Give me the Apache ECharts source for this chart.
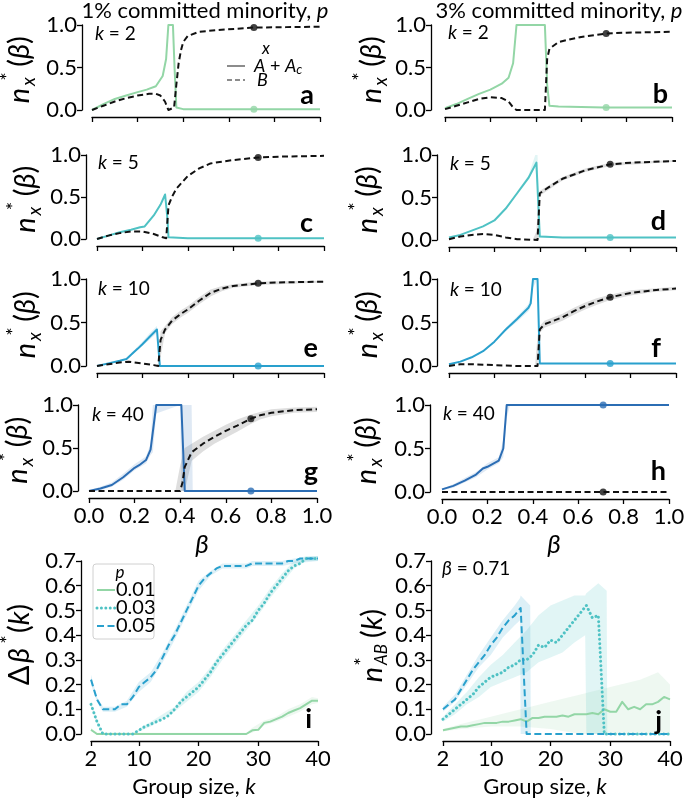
<!DOCTYPE html>
<html><head><meta charset="utf-8">
<script src="https://cdn.jsdelivr.net/npm/echarts@6/dist/echarts.min.js"></script>
<style>html,body{margin:0;padding:0;background:#fff}#c{width:685px;height:808px}</style>
</head><body><div id="c"></div>
<script>
// ---------------- DATA ----------------
const betaTicks = [0, 0.2, 0.4, 0.6, 0.8, 1.0];
const kTicks = [2, 10, 20, 30, 40];
const dotBeta = 0.71;

// panel a (k=2, p=1%)
const aBetaA = [0, 0.05, 0.1, 0.15, 0.2, 0.24, 0.28, 0.31, 0.325, 0.335, 0.355, 0.362, 0.37, 0.4, 0.6, 0.8, 1.0];
const aValA  = [0, 0.07, 0.13, 0.17, 0.21, 0.24, 0.28, 0.4, 0.6, 1.0, 1.0, 0.5, 0.03, 0.01, 0.01, 0.01, 0.01];
const aBetaB = [0, 0.05, 0.1, 0.15, 0.2, 0.25, 0.28, 0.3, 0.32, 0.335, 0.36, 0.37, 0.38, 0.39, 0.4, 0.42, 0.47, 0.55, 0.71, 0.85, 1.0];
const aValB  = [0, 0.05, 0.1, 0.14, 0.17, 0.19, 0.19, 0.17, 0.1, 0.0, 0.03, 0.3, 0.55, 0.7, 0.8, 0.87, 0.92, 0.94, 0.97, 0.975, 0.98];
const aDot = [0.01, 0.97];

// panel b (k=2, p=3%)
const bBetaA = [0, 0.05, 0.1, 0.15, 0.2, 0.25, 0.28, 0.3, 0.315, 0.44, 0.45, 0.46, 0.5, 0.7, 1.0];
const bValA  = [0.02, 0.07, 0.13, 0.19, 0.24, 0.31, 0.38, 0.55, 1.0, 1.0, 0.3, 0.05, 0.04, 0.03, 0.03];
const bBetaB = [0, 0.05, 0.1, 0.15, 0.2, 0.25, 0.28, 0.3, 0.315, 0.44, 0.45, 0.46, 0.5, 0.6, 0.71, 0.8, 1.0];
const bValB  = [0.01, 0.05, 0.09, 0.13, 0.15, 0.14, 0.1, 0.03, 0.0, 0.0, 0.6, 0.72, 0.8, 0.86, 0.9, 0.91, 0.92];
const bDot = [0.03, 0.9];

// panel c (k=5, p=1%)
const cBetaA = [0, 0.05, 0.1, 0.15, 0.19, 0.21, 0.25, 0.28, 0.3, 0.31, 0.315, 0.4, 1.0];
const cValA  = [0, 0.04, 0.08, 0.11, 0.14, 0.15, 0.28, 0.41, 0.53, 0.25, 0.02, 0.01, 0.01];
const cBetaB = [0, 0.05, 0.1, 0.15, 0.2, 0.25, 0.29, 0.305, 0.315, 0.33, 0.35, 0.4, 0.45, 0.5, 0.6, 0.71, 0.8, 1.0];
const cValB  = [0, 0.04, 0.07, 0.09, 0.09, 0.06, 0.02, 0.01, 0.4, 0.5, 0.6, 0.75, 0.84, 0.9, 0.94, 0.97, 0.98, 0.99];
const cDot = [0.01, 0.97];

// panel d (k=5, p=3%)
const dBetaA = [0, 0.05, 0.1, 0.15, 0.2, 0.25, 0.3, 0.35, 0.385, 0.4, 0.5, 1.0];
const dValA  = [0.03, 0.06, 0.11, 0.16, 0.23, 0.37, 0.55, 0.73, 0.91, 0.04, 0.03, 0.03];
const dBetaB = [0, 0.05, 0.1, 0.15, 0.2, 0.25, 0.3, 0.39, 0.4, 0.45, 0.5, 0.6, 0.71, 0.8, 1.0];
const dValB  = [0.01, 0.04, 0.06, 0.07, 0.06, 0.03, 0.01, 0.0, 0.55, 0.64, 0.72, 0.82, 0.89, 0.91, 0.93];
const dDot = [0.03, 0.89];
const dBandA = [[0.3, 0.53, 0.57], [0.35, 0.71, 0.76], [0.38, 0.86, 1.0], [0.39, 0.6, 1.0], [0.4, 0.03, 0.06], [0.5, 0.03, 0.03]];
const dBandB = [[0.37, 0, 0.01], [0.385, 0, 0.1], [0.395, 0, 0.55], [0.4, 0.52, 0.58], [0.5, 0.7, 0.74], [0.6, 0.8, 0.84], [0.71, 0.87, 0.91], [1.0, 0.92, 0.94]];

// panel e (k=10, p=1%)
const eBetaA = [0, 0.05, 0.1, 0.13, 0.15, 0.18, 0.2, 0.23, 0.264, 0.277, 1.0];
const eValA  = [0, 0.03, 0.06, 0.08, 0.13, 0.2, 0.25, 0.33, 0.42, 0.0, 0.0];
const eBetaB = [0, 0.05, 0.1, 0.14, 0.2, 0.25, 0.27, 0.28, 0.3, 0.33, 0.37, 0.4, 0.45, 0.5, 0.55, 0.6, 0.71, 0.8, 1.0];
const eValB  = [0, 0.02, 0.04, 0.05, 0.03, 0.01, 0.0, 0.3, 0.42, 0.52, 0.6, 0.65, 0.75, 0.84, 0.89, 0.92, 0.95, 0.96, 0.97];
const eDot = [0.0, 0.95];
const eBandA = [[0.15, 0.12, 0.15], [0.2, 0.23, 0.28], [0.23, 0.3, 0.37], [0.264, 0.38, 0.46], [0.277, 0, 0.03]];
const eBandB = [[0.27, 0, 0.02], [0.28, 0.1, 0.4], [0.3, 0.38, 0.46], [0.33, 0.48, 0.56], [0.37, 0.56, 0.64], [0.4, 0.61, 0.69], [0.45, 0.71, 0.79], [0.5, 0.8, 0.88], [0.55, 0.86, 0.92], [0.6, 0.9, 0.94], [0.71, 0.93, 0.97], [1.0, 0.96, 0.98]];

// panel f (k=10, p=3%)
const fBetaA = [0, 0.05, 0.1, 0.15, 0.2, 0.25, 0.3, 0.35, 0.36, 0.37, 0.39, 0.4, 1.0];
const fValA  = [0.02, 0.05, 0.1, 0.17, 0.28, 0.42, 0.54, 0.67, 0.72, 1.0, 1.0, 0.03, 0.03];
const fBetaB = [0, 0.05, 0.1, 0.2, 0.3, 0.39, 0.4, 0.42, 0.5, 0.55, 0.6, 0.65, 0.71, 0.8, 0.9, 1.0];
const fValB  = [0.0, 0.02, 0.02, 0.01, 0.0, 0.0, 0.42, 0.48, 0.56, 0.63, 0.69, 0.74, 0.79, 0.84, 0.87, 0.89];
const fDot = [0.03, 0.79];
const fBandA = [[0.25, 0.4, 0.44], [0.3, 0.51, 0.57], [0.35, 0.63, 0.71], [0.36, 0.68, 0.8], [0.37, 0.9, 1.0], [0.39, 1.0, 1.0]];
const fBandB = [[0.38, 0, 0.02], [0.39, 0, 0.35], [0.4, 0.38, 0.46], [0.42, 0.44, 0.52], [0.5, 0.52, 0.6], [0.55, 0.59, 0.67], [0.6, 0.65, 0.73], [0.65, 0.7, 0.78], [0.71, 0.76, 0.82], [0.8, 0.81, 0.87], [0.9, 0.85, 0.89], [1.0, 0.87, 0.91]];

// panel g (k=40, p=1%)
const gBetaA = [0, 0.05, 0.1, 0.15, 0.2, 0.22, 0.25, 0.27, 0.295, 0.405, 0.42, 1.0];
const gValA  = [0, 0.03, 0.07, 0.16, 0.27, 0.3, 0.36, 0.48, 1.0, 1.0, 0.0, 0.0];
const gBetaB = [0, 0.4, 0.41, 0.42, 0.45, 0.5, 0.55, 0.6, 0.65, 0.71, 0.75, 0.8, 0.9, 1.0];
const gValB  = [0, 0.0, 0.1, 0.28, 0.45, 0.55, 0.63, 0.7, 0.76, 0.84, 0.88, 0.91, 0.94, 0.95];
const gDot = [0.0, 0.84];
const gBandA = [[0, 0, 0.01], [0.05, 0.01, 0.05], [0.1, 0.05, 0.1], [0.15, 0.13, 0.2], [0.2, 0.24, 0.31], [0.25, 0.32, 0.4], [0.27, 0.42, 0.55], [0.28, 0.45, 1.0], [0.295, 0.9, 1.0], [0.4, 1.0, 1.0], [0.405, 0, 1.0], [0.45, 0, 1.0], [0.455, 0, 0.0], [1.0, 0, 0]];
const gBandB = [[0.38, 0, 0.02], [0.4, 0, 0.3], [0.42, 0, 0.5], [0.45, 0.35, 0.55], [0.5, 0.46, 0.63], [0.55, 0.55, 0.7], [0.6, 0.62, 0.77], [0.65, 0.69, 0.83], [0.71, 0.78, 0.89], [0.75, 0.83, 0.92], [0.8, 0.87, 0.95], [0.9, 0.91, 0.97], [1.0, 0.92, 0.98]];

// panel h (k=40, p=3%)
const hBetaA = [0, 0.05, 0.1, 0.15, 0.18, 0.2, 0.25, 0.27, 0.285, 1.0];
const hValA  = [0.03, 0.07, 0.13, 0.2, 0.27, 0.29, 0.36, 0.5, 1.0, 1.0];
const hBetaB = [0, 1.0];
const hValB  = [0, 0];
const hDot = [1.0, 0.0];
const hBandA = [[0, 0.02, 0.04], [0.05, 0.05, 0.09], [0.1, 0.11, 0.16], [0.15, 0.17, 0.23], [0.2, 0.26, 0.33], [0.25, 0.33, 0.4], [0.27, 0.4, 0.6], [0.285, 0.85, 1.0], [0.3, 1.0, 1.0], [1.0, 1.0, 1.0]];

// panel i: delta beta*(k)
const kVals = [2,3,4,5,6,7,8,9,10,11,12,13,14,15,16,17,18,19,20,21,22,23,24,25,26,27,28,29,30,31,32,33,34,35,36,37,38,39,40];
const iP01 = [0.017,0,0,0,0,0,0,0,0,0,0,0,0,0,0,0,0,0,0,0,0,0,0,0,0,0,0,0.015,0.017,0.045,0.05,0.06,0.07,0.085,0.095,0.105,0.12,0.135,0.135];
const iP03 = [0.12,0.05,0,0,0,0,0,0,0.015,0.03,0.04,0.05,0.06,0.075,0.1,0.13,0.15,0.17,0.19,0.22,0.25,0.29,0.32,0.35,0.38,0.41,0.44,0.46,0.5,0.53,0.57,0.6,0.63,0.66,0.68,0.69,0.71,0.71,0.71];
const iP05 = [0.22,0.14,0.10,0.10,0.10,0.12,0.12,0.15,0.19,0.21,0.23,0.26,0.31,0.36,0.40,0.45,0.50,0.55,0.60,0.63,0.65,0.67,0.68,0.68,0.68,0.68,0.68,0.69,0.69,0.69,0.69,0.69,0.69,0.70,0.70,0.71,0.71,0.71,0.71];
const iBand01 = [[2,0.01,0.025],[3,0,0.005],[28,0,0.005],[29,0.005,0.025],[31,0.035,0.055],[33,0.05,0.07],[35,0.07,0.1],[37,0.09,0.12],[39,0.12,0.15],[40,0.125,0.145]];
const iBand03 = [[2,0.11,0.13],[3,0.04,0.06],[4,0,0.005],[9,0,0.005],[12,0.03,0.05],[16,0.09,0.11],[18,0.13,0.17],[20,0.17,0.21],[22,0.23,0.27],[24,0.3,0.34],[26,0.36,0.4],[28,0.42,0.46],[30,0.48,0.52],[32,0.55,0.59],[34,0.61,0.65],[36,0.67,0.7],[38,0.7,0.72],[40,0.7,0.72]];
const iBand05 = [[2,0.2,0.24],[3,0.13,0.15],[4,0.09,0.11],[6,0.09,0.11],[8,0.11,0.135],[10,0.17,0.21],[12,0.21,0.25],[14,0.29,0.33],[16,0.38,0.42],[18,0.48,0.52],[20,0.58,0.62],[22,0.64,0.66],[24,0.67,0.69],[28,0.67,0.69],[29,0.68,0.7],[34,0.68,0.7],[36,0.69,0.71],[40,0.7,0.72]];

// panel j: n*_AB(k) at beta = 0.71
const jP01 = [0.015,0.02,0.025,0.03,0.03,0.035,0.04,0.045,0.045,0.045,0.05,0.05,0.055,0.06,0.05,0.065,0.065,0.07,0.07,0.07,0.075,0.07,0.08,0.08,0.08,0.085,0.08,0.1,0.09,0.09,0.13,0.1,0.11,0.1,0.12,0.12,0.13,0.15,0.14];
const jP03 = [0.06,0.08,0.1,0.12,0.14,0.16,0.19,0.21,0.23,0.24,0.25,0.27,0.28,0.3,0.3,0.32,0.36,0.35,0.38,0.37,0.4,0.43,0.46,0.49,0.52,0.47,0.48,0,0,0,0,0,0,0,0,0,0,0,0];
const jP05 = [0.1,0.12,0.14,0.18,0.22,0.26,0.29,0.32,0.36,0.39,0.43,0.46,0.48,0.51,0,0,0,0,0,0,0,0,0,0,0,0,0,0,0,0,0,0,0,0,0,0,0,0,0];
const jBand01 = [[2,0.01,0.02],[5,0.02,0.04],[10,0.03,0.07],[15,0.03,0.1],[20,0.02,0.13],[25,0.0,0.16],[30,0,0.19],[35,0,0.22],[38,0,0.25],[40,0,0.2]];
const jBand03 = [[2,0.05,0.07],[4,0.08,0.12],[6,0.12,0.17],[8,0.15,0.23],[10,0.19,0.28],[12,0.21,0.32],[14,0.23,0.37],[16,0.25,0.42],[18,0.29,0.48],[20,0.31,0.52],[22,0.33,0.54],[24,0.37,0.56],[25.8,0.4,0.56],[26,0,0.57],[28,0,0.61],[29.4,0,0.58],[29.5,0,0]];
const jBand05 = [[2,0.09,0.11],[4,0.13,0.16],[6,0.2,0.24],[8,0.27,0.32],[10,0.32,0.39],[12,0.39,0.46],[14,0.44,0.52],[14.9,0.46,0.55],[15,0,0.56],[16.6,0,0.52],[16.7,0,0]];

// ---------------- STYLE / LAYOUT ----------------
const FF = 'Lato, "Open Sans", sans-serif';
const COL = {green:'#93d6a6', teal:'#4fc2c4', blue:'#29a0cd', dblue:'#2b6db4', black:'#111'};
const BAND = {green:'rgba(147,214,166,0.16)', teal:'rgba(79,194,196,0.17)', blue:'rgba(41,160,205,0.16)', dblue:'rgba(43,109,180,0.15)', gray:'rgba(0,0,0,0.13)'};
const L = {
  a:{l:92,t:25,w:228,h:85,yo:10}, b:{l:445,t:25,w:227,h:85,yo:14},
  c:{l:97,t:155,w:227,h:84,yo:11}, d:{l:449,t:155,w:227,h:85,yo:12},
  e:{l:97,t:279,w:227,h:87,yo:11}, f:{l:449,t:279,w:227,h:87,yo:12},
  g:{l:89,t:405,w:228,h:86,yo:11}, h:{l:442,t:405,w:227,h:87,yo:12},
  i:{l:91,t:561,w:227,h:173,yo:10}, j:{l:443,t:561,w:227,h:173,yo:12}
};
const order = ['a','b','c','d','e','f','g','h','i','j'];
const TICK_FS = 22;

function pairs(xs, ys){ return xs.map((x,i)=>[x, ys[i]]); }

const option = {animation:false, backgroundColor:'#fff', grid:[], xAxis:[], yAxis:[], series:[], graphic:{elements:[]}};

order.forEach((k, idx) => {
  const g = L[k];
  const isK = (k === 'i' || k === 'j');
  option.grid.push({left:g.l, top:g.t, width:g.w, height:g.h, containLabel:false, outerBoundsMode:'none'});
  const xa = {gridIndex:idx, type:'value', min:isK?2:0, max:isK?40:1, offset:7,
    axisLine:{show:true, onZero:false, lineStyle:{color:'#000', width:1.3}},
    axisTick:{show:true, length:5, lineStyle:{color:'#000', width:1.3}},
    axisLabel:{show:(isK || k==='g' || k==='h'), color:'#000', fontSize:TICK_FS, fontFamily:FF, margin:7,
      formatter: v => isK ? String(v) : v.toFixed(1)},
    splitLine:{show:false}};
  if (isK) { xa.axisTick.customValues = kTicks; xa.axisLabel.customValues = kTicks; }
  else { xa.interval = 0.2; }
  option.xAxis.push(xa);
  option.yAxis.push({gridIndex:idx, type:'value', min:0, max:isK?0.7:1, interval:isK?0.1:0.5, offset:g.yo,
    axisLine:{show:true, onZero:false, lineStyle:{color:'#000', width:1.3}},
    axisTick:{show:true, length:5, lineStyle:{color:'#000', width:1.3}},
    axisLabel:{show:true, color:'#000', fontSize:TICK_FS, fontFamily:FF, margin:5, formatter: v => v.toFixed(1)},
    splitLine:{show:false}});
});

function lineS(idx, data, color, width, type, z, cap){
  return {type:'line', xAxisIndex:idx, yAxisIndex:idx, data, symbol:'none', showSymbol:false, clip:false, silent:true,
    lineStyle:{color, width, type, cap:cap||'butt', join:'round'}, z:z||3};
}
function bandS(idx, band, fill){
  return {type:'custom', xAxisIndex:idx, yAxisIndex:idx, data:[[band[0][0], band[0][1]]], silent:true, clip:false, z:1,
    renderItem:(params, api) => {
      const up = band.map(p => api.coord([p[0], p[2]]));
      const lo = band.slice().reverse().map(p => api.coord([p[0], p[1]]));
      return {type:'polygon', shape:{points: up.concat(lo)}, style:{fill}};
    }};
}
function dotS(idx, x, y, color){
  return {type:'scatter', xAxisIndex:idx, yAxisIndex:idx, data:[[x, y]], symbolSize:7, itemStyle:{color}, silent:true, z:5};
}

const betaPanels = [
  {k:'a', A:[aBetaA,aValA], B:[aBetaB,aValB], dot:aDot, c:'green'},
  {k:'b', A:[bBetaA,bValA], B:[bBetaB,bValB], dot:bDot, c:'green'},
  {k:'c', A:[cBetaA,cValA], B:[cBetaB,cValB], dot:cDot, c:'teal'},
  {k:'d', A:[dBetaA,dValA], B:[dBetaB,dValB], dot:dDot, c:'teal', bA:dBandA, bB:dBandB},
  {k:'e', A:[eBetaA,eValA], B:[eBetaB,eValB], dot:eDot, c:'blue', bA:eBandA, bB:eBandB},
  {k:'f', A:[fBetaA,fValA], B:[fBetaB,fValB], dot:fDot, c:'blue', bA:fBandA, bB:fBandB},
  {k:'g', A:[gBetaA,gValA], B:[gBetaB,gValB], dot:gDot, c:'dblue', bA:gBandA, bB:gBandB},
  {k:'h', A:[hBetaA,hValA], B:[hBetaB,hValB], dot:hDot, c:'dblue', bA:hBandA}
];
betaPanels.forEach(p => {
  const idx = order.indexOf(p.k);
  if (p.bB) option.series.push(bandS(idx, p.bB, BAND.gray));
  if (p.bA) option.series.push(bandS(idx, p.bA, BAND[p.c]));
  option.series.push(lineS(idx, pairs(p.A[0], p.A[1]), COL[p.c], 2, 'solid', 3));
  option.series.push(lineS(idx, pairs(p.B[0], p.B[1]), COL.black, 2, [6, 3.5], 4));
  option.series.push(dotS(idx, dotBeta, p.dot[0], COL[p.c]));
  option.series.push(dotS(idx, dotBeta, p.dot[1], COL.black));
});

// panels i and j
const DOT = [0.01, 4.4], DASH = [7, 3.5];
[[8, iP01, iP03, iP05, iBand01, iBand03, iBand05], [9, jP01, jP03, jP05, jBand01, jBand03, jBand05]].forEach(r => {
  const idx = r[0];
  option.series.push(bandS(idx, r[4], BAND.green));
  option.series.push(bandS(idx, r[5], BAND.teal));
  option.series.push(bandS(idx, r[6], BAND.blue));
  option.series.push(lineS(idx, pairs(kVals, r[1]), COL.green, 2, 'solid', 3));
  option.series.push(lineS(idx, pairs(kVals, r[2]), COL.teal, 3, DOT, 4, 'round'));
  option.series.push(lineS(idx, pairs(kVals, r[3]), COL.blue, 2, DASH, 5));
});

// ---------------- TEXT / ANNOTATIONS ----------------
const E = option.graphic.elements;
function T(x, y, text, size, ha, va, extra){
  const s = {text, fontSize:size, fontFamily:FF, fill:'#000', textAlign:ha, textVerticalAlign:va, align:ha, verticalAlign:va};
  Object.assign(s, extra || {});
  return {type:'text', x, y, silent:true, z:100, style:s};
}
const IT = {fontStyle:'italic'};
function richI(size){ return {rich:{i:{fontStyle:'italic', fontSize:size, fontFamily:FF, fill:'#000'}}}; }

E.push(T(205, 11, '1% committed minority, {i|p}', 22, 'center', 'middle', richI(22)));
E.push(T(559, 11, '3% committed minority, {i|p}', 22, 'center', 'middle', richI(22)));

[['a',95,34,'2'],['b',448,33,'2'],['c',98,163,'5'],['d',450,164,'5'],['e',98,289,'10'],['f',450,290,'10'],['g',92,415,'40'],['h',443,414,'40']]
  .forEach(r => E.push(T(r[1], r[2], '{i|k} = ' + r[3], 19, 'left', 'middle', richI(19))));
E.push(T(442, 569, '{i|β} = 0.71', 19, 'left', 'middle', richI(19)));

[['a',314,95],['b',668,94],['c',313,223],['d',666,221],['e',318,348],['f',661,348],['g',318,472],['h',666,471],['i',312,719],['j',662,721]]
  .forEach(r => E.push(T(r[1], r[2], r[0], 27, 'right', 'middle', {fontWeight:'bold'})));

// y-axis labels (rotated groups)
function yLab(cx, cy, parts){
  return {type:'group', x:cx, y:cy, rotation:Math.PI/2, silent:true,
    children: parts.map(p => T(p[0], p[1], p[2], p[3], 'center', 'middle', p[4]))};
}
const NX = [[-28,0,'n',29,IT], [-9,-12,'*',20,{}], [-14,9,'x',19,IT], [16,0,'({i|β})',29,richI(29)]];
[['a',20],['b',372],['c',26],['d',368],['e',26],['f',368],['g',18],['h',367]].forEach(r => {
  const g = L[r[0]];
  E.push(yLab(r[1], g.t + g.h/2, NX));
});
E.push(yLab(20, L.i.t + L.i.h/2, [[-28,0,'Δ',29,{}], [-8,0,'β',29,IT], [8,-12,'*',20,{}], [29,0,'({i|k})',29,richI(29)]]));
E.push(yLab(373, L.j.t + L.j.h/2, [[-27,0,'n',29,IT], [-14,-11,'*',20,{}], [-7,9,'AB',17,IT], [24,0,'({i|k})',29,richI(29)]]));

// x-axis names
E.push(T(202, 545, 'β', 26, 'center', 'middle', IT));
E.push(T(554, 545, 'β', 26, 'center', 'middle', IT));
E.push(T(194, 787, 'Group size, {i|k}', 22, 'center', 'middle', richI(22)));
E.push(T(545, 787, 'Group size, {i|k}', 22, 'center', 'middle', richI(22)));

// legend in panel a
E.push(T(266, 49, 'x', 17, 'center', 'middle', IT));
E.push({type:'line', silent:true, z:100, shape:{x1:227, y1:66, x2:245, y2:66}, style:{stroke:'#8c8c8c', lineWidth:2}});
E.push({type:'line', silent:true, z:100, shape:{x1:227, y1:80, x2:245, y2:80}, style:{stroke:'#8c8c8c', lineWidth:2, lineDash:[5,3]}});
E.push(T(254, 66, '{i|A} + {i|A}{s|c}', 18, 'left', 'middle', {rich:{
  i:{fontStyle:'italic', fontSize:18, fontFamily:FF, fill:'#000', lineHeight:20, verticalAlign:'middle'},
  s:{fontStyle:'italic', fontSize:13, fontFamily:FF, fill:'#000', lineHeight:12, verticalAlign:'bottom'}}}));
E.push(T(257, 80, 'B', 18, 'left', 'middle', IT));

// legend in panel i
E.push({type:'rect', silent:true, z:90, shape:{x:93, y:564, width:61, height:75, r:3}, style:{fill:'rgba(255,255,255,0.85)', stroke:'#d0d0d0', lineWidth:1}});
E.push(T(120, 573, 'p', 17, 'center', 'middle', IT));
E.push({type:'line', silent:true, z:100, shape:{x1:97, y1:590, x2:115, y2:590}, style:{stroke:COL.green, lineWidth:2}});
E.push({type:'line', silent:true, z:100, shape:{x1:97, y1:608, x2:115, y2:608}, style:{stroke:COL.teal, lineWidth:3, lineDash:DOT, lineCap:'round'}});
E.push({type:'line', silent:true, z:100, shape:{x1:97, y1:626, x2:115, y2:626}, style:{stroke:COL.blue, lineWidth:2, lineDash:DASH}});
E.push(T(116, 590, '0.01', 20, 'left', 'middle'));
E.push(T(116, 608, '0.03', 20, 'left', 'middle'));
E.push(T(116, 626, '0.05', 20, 'left', 'middle'));

const chart = echarts.init(document.getElementById('c'), null, {renderer:'canvas'});
chart.setOption(option);
</script></body></html>
